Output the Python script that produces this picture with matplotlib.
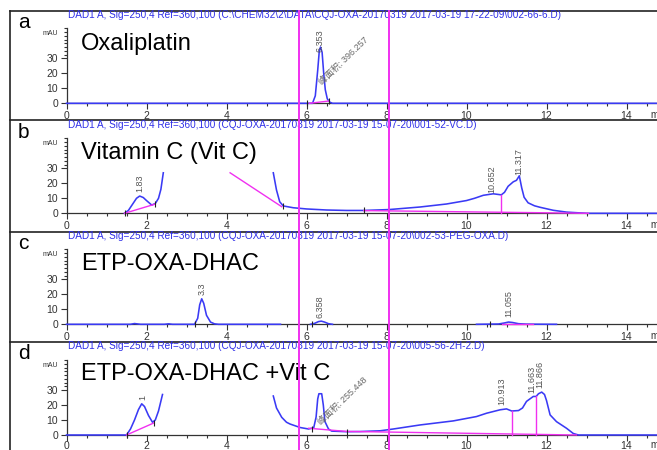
import numpy as np
import matplotlib
matplotlib.use('Agg')
import matplotlib.pyplot as plt
from matplotlib.lines import Line2D

plt.rcParams['font.family'] = ['Liberation Sans', 'Noto Sans CJK SC', 'DejaVu Sans']

NAN = np.nan

# ---------------- data ----------------
panel_letters = ['a', 'b', 'c', 'd']
panel_titles = ['Oxaliplatin', 'Vitamin C (Vit C)', 'ETP-OXA-DHAC', 'ETP-OXA-DHAC +Vit C']
headers = [
    r'DAD1 A, Sig=250,4 Ref=360,100 (C:\CHEM32\2\DATA\CQJ-OXA-20170319 2017-03-19 17-22-09\002-66-6.D)',
    r'DAD1 A, Sig=250,4 Ref=360,100 (CQJ-OXA-20170319 2017-03-19 15-07-20\001-52-VC.D)',
    r'DAD1 A, Sig=250,4 Ref=360,100 (CQJ-OXA-20170319 2017-03-19 15-07-20\002-53-PEG-OXA.D)',
    r'DAD1 A, Sig=250,4 Ref=360,100 (CQJ-OXA-20170319 2017-03-19 15-07-20\005-56-2H-2.D)',
]

# chromatograms (time in min, absorbance in mAU); NaN = hidden part
a_time = [0, 6.15, 6.22, 6.28, 6.32, 6.35, 6.39, 6.43, 6.47, 6.52, 6.58, 6.65, 15.5]
a_abs = [0, 0, 5, 22, 35, 37.5, 34, 20, 9, 3, 0.8, 0, 0]

b_time = [1.45, 1.55, 1.65, 1.75, 1.83, 1.92, 2.0, 2.13, 2.22, 2.3, 2.36, 2.42, NAN,
          5.17, 5.25, 5.33, 5.42, 5.67, 6.0, 6.5, 7.0, 7.43, 8.07, 8.84, 9.5, 10.0, 10.2,
          10.42, 10.67, 10.87, 10.95, 11.04, 11.17, 11.25, 11.32, 11.38, 11.44, 11.54,
          11.7, 11.84, 12.17, 12.5, 13.0, 15.5]
b_abs = [0, 2, 6, 10, 11.5, 10.5, 8.5, 5.5, 6.5, 10, 16, 27, NAN,
         27, 15.5, 7.7, 4.9, 3.7, 2.9, 2.2, 1.9, 1.9, 2.5, 4.2, 6.2, 8.5, 10,
         12, 13, 12.3, 14, 18, 21, 22, 25, 17, 10.7, 7,
         5, 4, 2, 0.8, 0, 0]

c_time = [0, 1.6, 1.7, 1.85, 2.45, 2.55, 2.65, 3.2, 3.28, 3.33, 3.38, 3.43, 3.5, 3.6, 3.7, 3.8, 5.35, NAN,
          6.1, 6.2, 6.3, 6.37, 6.45, 6.55, 6.65, NAN,
          10.25, 10.8, 10.95, 11.05, 11.15, 11.3, 11.5, 12.25]
c_abs = [0, 0, 0.5, 0, 0, 0.3, 0, 0, 4, 13, 17, 14, 6, 1.5, 0.3, 0, 0, NAN,
         0, 0.6, 1.8, 2.1, 1.5, 0.4, 0, NAN,
         0, 0.2, 0.9, 1.5, 1.2, 0.4, 0.1, 0]

d_time = [0, 1.5, 1.6, 1.7, 1.8, 1.88, 1.95, 2.05, 2.15, 2.22, 2.3, 2.4, NAN,
          5.17, 5.25, 5.38, 5.5, 5.59, 5.84, 6.05, 6.18, 6.24, 6.28, 6.31, 6.38, 6.42, 6.46,
          6.55, 6.63, 7.0, 7.34, 7.84, 8.17, 8.84, 9.67, 10.25, 10.5, 10.84, 11.0, 11.13,
          11.3, 11.4, 11.5, 11.67, 11.74, 11.8, 11.88, 11.95, 12.0, 12.09, 12.25, 12.5,
          12.67, 12.8, 15.5]
d_abs = [0, 0, 4, 10, 17, 20.8, 19, 13, 8.5, 10, 16, 27, NAN,
         26, 18, 11.8, 8.5, 7.3, 5, 4, 4.8, 12, 24, 27.5, 27.5, 20, 9,
         4, 2.6, 2.2, 2.3, 2.8, 4, 6.7, 9.4, 12.3, 14.5, 16.8, 17.4, 16,
         16.3, 18, 22.4, 25.7, 25.7, 27.5, 28.6, 27, 23, 13.4, 8.9, 4.5,
         1, 0, 0]

# integration baselines (magenta)
a_base = [([6.07, 6.55], [0, 1.5])]
b_base = [([1.45, 2.2], [0, 6]), ([4.09, 5.38], [27, 4.4]), ([7.43, 13.05], [1.8, 0])]
c_base = [([10.88, 11.67], [0, 0])]
d_base = [([1.5, 2.18], [0, 8]), ([6.05, 7.0, 12.75], [4.5, 2.4, 0])]

# drop lines (time, height)
b_drop = [(10.87, 12.3)]
d_drop = [(11.13, 16), (11.74, 25.7)]

# peak start/end markers
a_marks = ([6.0, 6.55], [0, 1.2])
b_marks = ([1.45, 2.2, 5.4, 7.43], [0, 6, 4.6, 1.9])
c_marks = ([3.21, 6.13, 10.59], [0, 0, 0])
d_marks = ([1.5, 2.18, 6.13, 7.0], [0, 8, 4.3, 2.3])

# retention time labels (time, label, bottom in mAU)
a_rt = [(6.34, '6.353', 34)]
b_rt = [(1.84, '1.83', 14.4), (10.63, '10.652', 13.5), (11.32, '11.317', 25.8)]
c_rt = [(3.38, '3.3', 19.5), (6.34, '6.358', 4), (11.05, '11.055', 5)]
d_rt = [(1.9, '1', 23.5), (10.88, '10.913', 20), (11.63, '11.663', 27.8), (11.84, '11.866', 31)]

# peak area annotations (time, mAU, text)
a_area = [(6.42, 11, '峰面积: 396.257')]
d_area = [(6.4, 5.5, '峰面积: 255.448')]

times = [a_time, b_time, c_time, d_time]
absorb = [a_abs, b_abs, c_abs, d_abs]
bases = [a_base, b_base, c_base, d_base]
drops = [[], b_drop, [], d_drop]
marks = [a_marks, b_marks, c_marks, d_marks]
rts = [a_rt, b_rt, c_rt, d_rt]
areas = [a_area, [], [], d_area]

# ---------------- layout (pixels) ----------------
W, H = 657, 450
fig = plt.figure(figsize=(W / 100, H / 100), dpi=100)


def fx(p):
    return p / W


def fy(p):
    return 1 - p / H


zero_y = [103.3, 213.3, 324.3, 435.0]
panel_top = [11, 120, 231.5, 341.5]
x0_px, x1_px, px_per_min = 66.5, 700, 40.0
px_per_mau = 1.5
ymax = 50

BLUE = '#3a3af5'
MAG = '#f030f0'
AXC = '#333333'

for i in range(4):
    y0 = zero_y[i]
    ax = fig.add_axes([fx(x0_px), fy(y0), (x1_px - x0_px) / W, ymax * px_per_mau / H])
    ax.set_xlim(0, (x1_px - x0_px) / px_per_min)
    ax.set_ylim(0, ymax)
    ax.patch.set_visible(False)
    for s in ['top', 'right']:
        ax.spines[s].set_visible(False)
    for s in ['left', 'bottom']:
        ax.spines[s].set_color(AXC)
        ax.spines[s].set_linewidth(0.9)
    ax.spines['left'].set_bounds(0, ymax)

    ax.set_xticks(np.arange(0, 15, 2))
    ax.set_xticks(np.arange(0, 15.6, 0.5), minor=True)
    ax.set_yticks([0, 10, 20, 30])
    ax.set_yticks(np.arange(32.5, 50.1, 2.5), minor=True)
    ax.tick_params(axis='both', which='major', direction='out', length=4, width=0.8,
                   colors=AXC, labelsize=7.5)
    ax.tick_params(axis='both', which='minor', direction='out', length=2.5, width=0.8,
                   colors=AXC)
    ax.tick_params(axis='x', pad=0.3 if i == 3 else 1.5)
    ax.tick_params(axis='y', pad=2)

    # chromatogram
    ax.plot(times[i], absorb[i], color=BLUE, lw=1.15, clip_on=False, zorder=3)
    for bx, by in bases[i]:
        ax.plot(bx, by, color=MAG, lw=1.0, clip_on=False, zorder=4)
    for tx, hy in drops[i]:
        ax.plot([tx, tx], [0.3, hy], color=MAG, lw=1.0, clip_on=False, zorder=4)
    mx, my = marks[i]
    ax.plot(mx, my, ls='none', marker='|', ms=4, mew=0.8, color='#222222',
            clip_on=False, zorder=5)
    for tx, lab, yb in rts[i]:
        ax.text(tx, yb, lab, rotation=90, ha='center', va='bottom', fontsize=6.5,
                color='#555555', zorder=6)
    for tx, ty, lab in areas[i]:
        ax.text(tx, ty, lab, rotation=44, rotation_mode='anchor', ha='left', va='bottom',
                fontsize=6.5, color='#666666', zorder=6)

    # texts
    fig.text(fx(68), fy(panel_top[i] + 4.5), headers[i], fontsize=7.2, color='#3030e8',
             ha='left', va='center')
    fig.text(fx(18), fy(panel_top[i] + 17.5), panel_letters[i], fontsize=15,
             ha='left', va='baseline', color='black')
    fig.text(fx(81), fy(panel_top[i] + 39), panel_titles[i], fontsize=17,
             ha='left', va='baseline', color='black')
    fig.text(fx(58), fy(y0 - 69.5), 'mAU', fontsize=5, ha='right', va='center', color=AXC)
    fig.text(fx(650), fy(y0 + (10.5 if i == 3 else 11.7)), 'min', fontsize=7,
             ha='left', va='center', color=AXC)

# panel frames
for t in panel_top:
    fig.add_artist(Line2D([fx(10), fx(W + 5)], [fy(t), fy(t)], color='#222222', lw=1.2))
fig.add_artist(Line2D([fx(10), fx(10)], [fy(panel_top[0]), fy(H + 5)], color='#222222', lw=1.2))

# magenta reference lines across all panels
for xp in [298.5, 388.5]:
    fig.add_artist(Line2D([fx(xp), fx(xp)], [fy(11), fy(H + 5)], color=MAG, lw=1.4, zorder=10))

fig.savefig('out.png', dpi=100)
